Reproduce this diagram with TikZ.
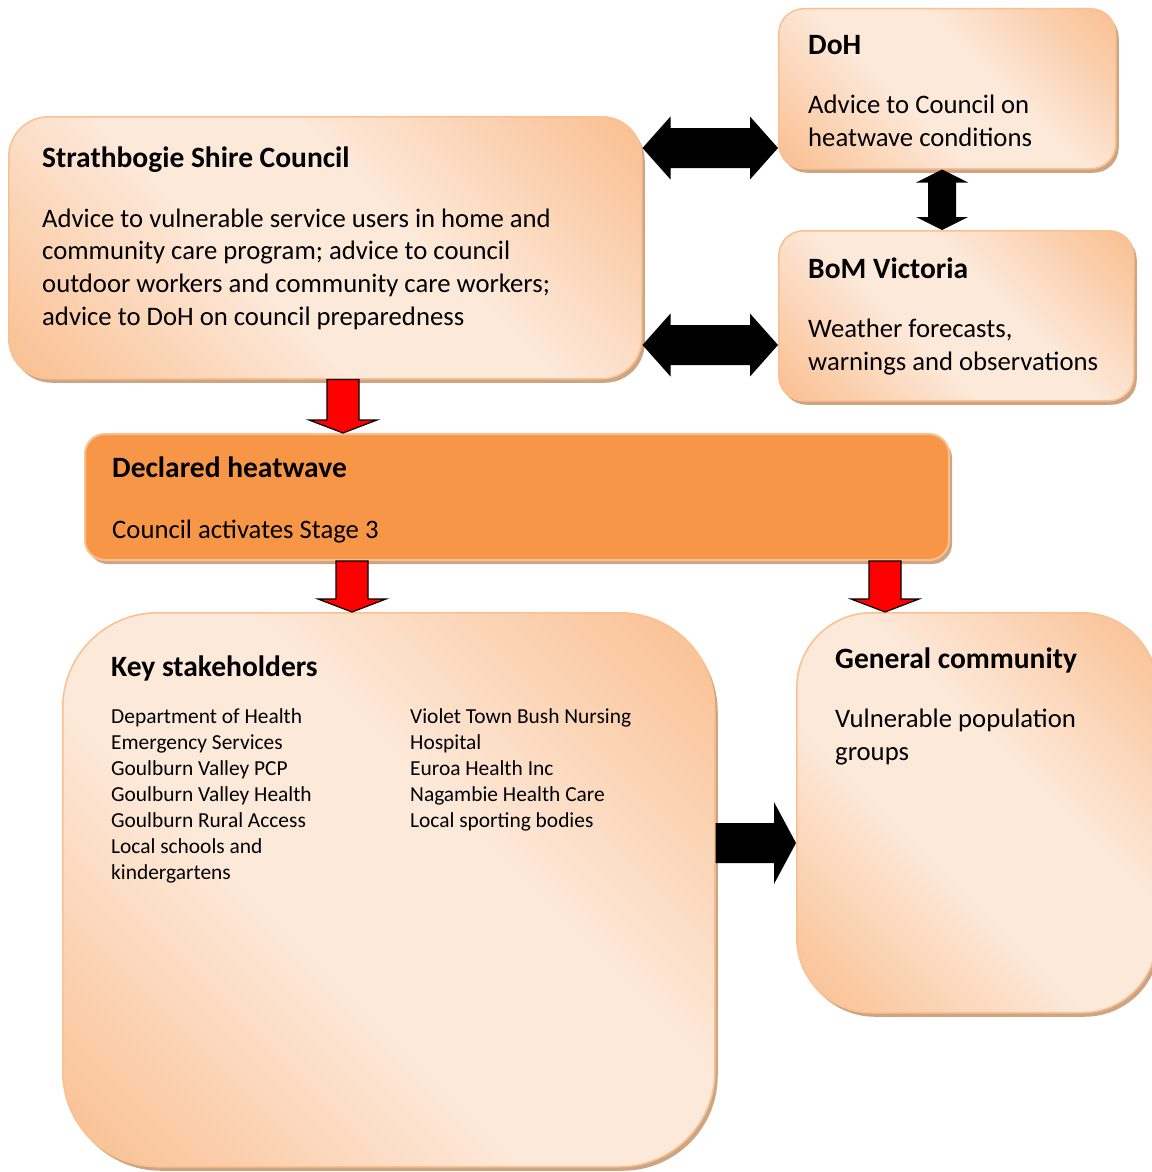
\documentclass[tikz,border=0pt]{standalone}
\usepackage{fontspec}
\setmainfont{Carlito}
\usetikzlibrary{shadows,calc}

\definecolor{pchOrange}{HTML}{FAC296}
\definecolor{pchLight}{HTML}{FDE9DA}
\definecolor{pchEdge}{HTML}{FAC090}
\definecolor{pchShadow}{HTML}{CDA583}
\definecolor{heatOrange}{HTML}{F79646}

\pgfdeclarehorizontalshading{peach}{100bp}{color(0bp)=(pchOrange); color(17bp)=(pchOrange); color(42bp)=(pchLight); color(58bp)=(pchLight); color(83bp)=(pchOrange); color(100bp)=(pchOrange)}

\tikzset{
  box/.style={draw=pchEdge, line width=1.5pt, shading=peach, shading angle=45,
    anchor=north west, inner sep=0pt,
    drop shadow={shadow xshift=3pt, shadow yshift=-4pt, fill=pchShadow, opacity=1}},
  title/.style={anchor=base west, inner sep=0pt, font=\fontsize{29.5}{34}\selectfont\bfseries},
  body/.style={anchor=north west, inner sep=0pt, align=left, font=\fontsize{26.7}{32.7}\selectfont},
  list/.style={anchor=north west, inner sep=0pt, align=left, font=\fontsize{21.4}{26.1}\selectfont},
  blkarrow/.style={fill=black},
  redarrow/.style={fill=red, draw=black, line width=1.2pt, line join=miter},
}

\begin{document}
\begin{tikzpicture}[x=1pt, y=1pt]
    \useasboundingbox (0,0) rectangle (1151,-1172);

    % Council box
    \node[box, rounded corners=40pt, minimum width=633pt, minimum height=262pt] (council) at (8,-116) {};
    \node[title] (councilt) at (42,-167) {Strathbogie Shire Council};
    \node[body] (councilb) at (42,-204.1) {\strut Advice to vulnerable service users in home and\\
        community care program; advice to council\\
        outdoor workers and community care workers;\\
        advice to DoH on council preparedness};

    % DoH box
    \node[box, rounded corners=25pt, minimum width=337pt, minimum height=160pt] (doh) at (778,-8) {};
    \node[title] (doht) at (808,-55) {DoH};
    \node[body] (dohb) at (808,-90.5) {\strut Advice to Council on\\ heatwave conditions};

    % BoM box
    \node[box, rounded corners=25pt, minimum width=355pt, minimum height=170pt] (bom) at (778,-230) {};
    \node[title] (bomt) at (808,-278) {BoM Victoria};
    \node[body] (bomb) at (808,-314.5) {\strut Weather forecasts,\\ warnings and observations};

    % Declared heatwave
    \node[box, shading=axis, top color=heatOrange, bottom color=heatOrange, line width=2pt,
        rounded corners=20pt, minimum width=864pt, minimum height=126pt] (heat) at (84,-433) {};
    \node[title] (heatt) at (112,-477.5) {Declared heatwave};
    \node[body, anchor=base west] (heatb) at (112,-538.5) {Council activates Stage 3};

    % Key stakeholders
    \node[box, rounded corners=95pt, minimum width=652pt, minimum height=554pt] (key) at (62,-612) {};
    \node[title] (keyt) at (111,-676) {Key stakeholders};
    \node[list] (keyl) at (111,-704.7) {\strut Department of Health\\ Emergency Services\\ Goulburn Valley PCP\\
        Goulburn Valley Health\\ Goulburn Rural Access\\ Local schools and\\ kindergartens};
    \node[list] (keyr) at (410,-704.7) {\strut Violet Town Bush Nursing\\ Hospital\\ Euroa Health Inc\\
        Nagambie Health Care\\ Local sporting bodies};

    % General community
    \node[box, rounded corners=75pt, minimum width=360pt, minimum height=400pt] (general) at (796,-612) {};
    \node[title] (generalt) at (835,-668) {General community};
    \node[body] (generalb) at (835,-704.6) {\strut Vulnerable population\\ groups};

    % two-way links
    \fill[blkarrow] let \p1=(council.east |- 0,-148), \p2=(doh.west |- 0,-148) in
        (\p1) -- (\x1+28,\y1+31.5) -- (\x1+28,\y1+20) -- (\x2-28,\y1+20) -- (\x2-28,\y1+31.5) -- (\p2)
        -- (\x2-28,\y1-31.5) -- (\x2-28,\y1-20) -- (\x1+28,\y1-20) -- (\x1+28,\y1-31.5) -- cycle;
    \fill[blkarrow] let \p1=(council.east |- 0,-345), \p2=(bom.west |- 0,-345) in
        (\p1) -- (\x1+28,\y1+31.5) -- (\x1+28,\y1+20) -- (\x2-28,\y1+20) -- (\x2-28,\y1+31.5) -- (\p2)
        -- (\x2-28,\y1-31.5) -- (\x2-28,\y1-20) -- (\x1+28,\y1-20) -- (\x1+28,\y1-31.5) -- cycle;
    \fill[blkarrow] let \p1=(doh.south -| 942,0), \p2=(bom.north -| 942,0) in
        (\p1) -- (\x1+26,\y1-13) -- (\x1+14,\y1-13) -- (\x1+14,\y2+13) -- (\x1+26,\y2+13) -- (\p2)
        -- (\x1-26,\y2+13) -- (\x1-14,\y2+13) -- (\x1-14,\y1-13) -- (\x1-26,\y1-13) -- cycle;

    % red arrows down
    \draw[redarrow] let \p1=(council.south -| 343,0), \p2=(heat.north -| 343,0) in
        (\x1-16,\y1) -- (\x1+16,\y1) -- (\x1+16,\y2+13) -- (\x1+34,\y2+13) -- (\p2)
        -- (\x1-34,\y2+13) -- (\x1-16,\y2+13) -- cycle;
    \draw[redarrow] let \p1=(heat.south -| 352,0), \p2=(key.north -| 352,0) in
        (\x1-16,\y1) -- (\x1+16,\y1) -- (\x1+16,\y2+13) -- (\x1+34,\y2+13) -- (\p2)
        -- (\x1-34,\y2+13) -- (\x1-16,\y2+13) -- cycle;
    \draw[redarrow] let \p1=(heat.south -| 885,0), \p2=(general.north -| 885,0) in
        (\x1-16,\y1) -- (\x1+16,\y1) -- (\x1+16,\y2+13) -- (\x1+34,\y2+13) -- (\p2)
        -- (\x1-34,\y2+13) -- (\x1-16,\y2+13) -- cycle;

    % stakeholders to community
    \fill[blkarrow] let \p1=(key.east |- 0,-843), \p2=(general.west |- 0,-843) in
        (\x1,\y1+20) -- (\x2-22,\y1+20) -- (\x2-22,\y1+41) -- (\p2)
        -- (\x2-22,\y1-41) -- (\x2-22,\y1-20) -- (\x1,\y1-20) -- cycle;
\end{tikzpicture}
\end{document}
